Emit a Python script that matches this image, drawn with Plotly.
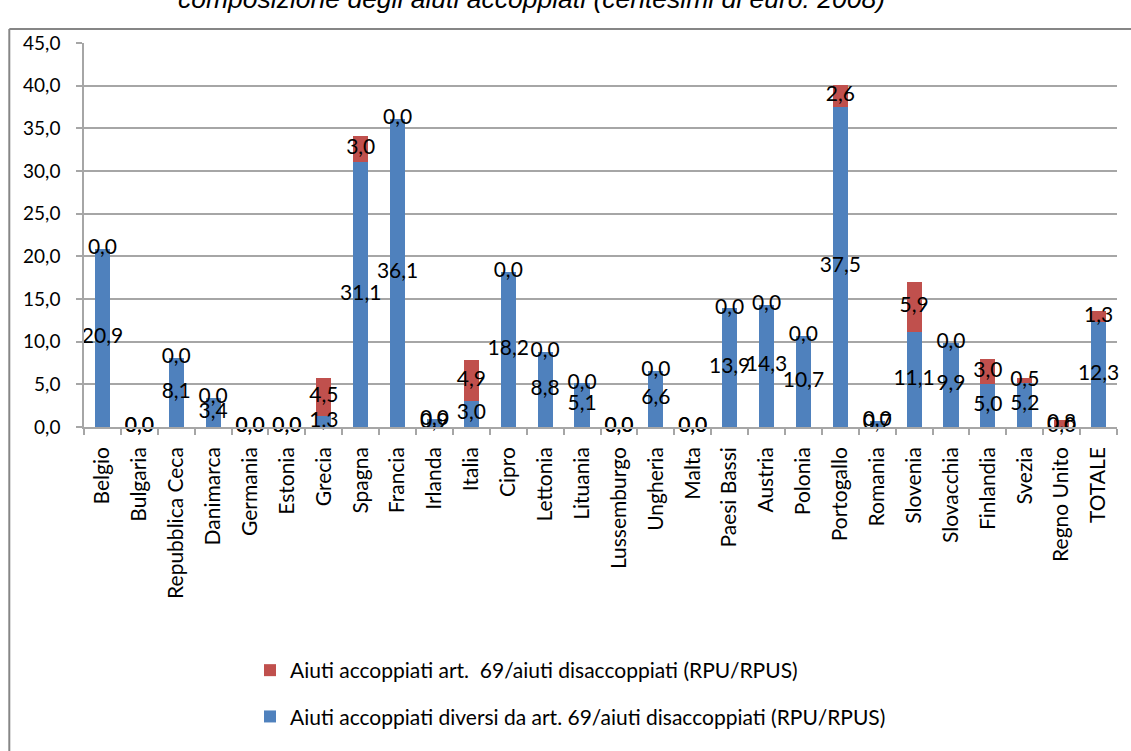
import plotly.graph_objects as go

# Paesi e valori (centesimi di euro, 2008)
paesi = [
    "Belgio", "Bulgaria", "Repubblica Ceca", "Danimarca", "Germania", "Estonia",
    "Grecia", "Spagna", "Francia", "Irlanda", "Italia", "Cipro", "Lettonia",
    "Lituania", "Lussemburgo", "Ungheria", "Malta", "Paesi Bassi", "Austria",
    "Polonia", "Portogallo", "Romania", "Slovenia", "Slovacchia", "Finlandia",
    "Svezia", "Regno Unito", "TOTALE",
]
aiuti_diversi_art69 = [
    20.9, 0.0, 8.1, 3.4, 0.0, 0.0, 1.3, 31.1, 36.1, 0.9, 3.0, 18.2, 8.8,
    5.1, 0.0, 6.6, 0.0, 13.9, 14.3, 10.7, 37.5, 0.7, 11.1, 9.9, 5.0,
    5.2, 0.0, 12.3,
]
aiuti_art69 = [
    0.0, 0.0, 0.0, 0.0, 0.0, 0.0, 4.5, 3.0, 0.0, 0.0, 4.9, 0.0, 0.0,
    0.0, 0.0, 0.0, 0.0, 0.0, 0.0, 0.0, 2.6, 0.0, 5.9, 0.0, 3.0,
    0.5, 0.8, 1.3,
]
y_ticks = [0, 5, 10, 15, 20, 25, 30, 35, 40, 45]

nome_diversi = "Aiuti accoppiati diversi da art. 69/aiuti disaccoppiati (RPU/RPUS)"
nome_art69 = "Aiuti accoppiati art.\u00a0 69/aiuti disaccoppiati (RPU/RPUS)"
titolo = "composizione degli aiuti accoppiati (centesimi di euro. 2008)"


def fmt(v):
    return f"{v:.1f}".replace(".", ",")


BLU = "#4F81BD"
ROSSO = "#C0504D"
GRIGIO = "#A6A6A6"
FONT = "Lato"

fig = go.Figure()
fig.add_bar(
    x=paesi, y=aiuti_diversi_art69, name=nome_diversi,
    marker=dict(color=BLU, line=dict(width=0)), legendgroup="diversi",
    legendrank=2, hoverinfo="skip",
)
fig.add_bar(
    x=paesi, y=aiuti_art69, name=nome_art69,
    marker=dict(color=ROSSO, line=dict(width=0)), legendgroup="art69",
    legendrank=1, hoverinfo="skip",
)

# etichette al centro di ciascun segmento
centro_blu = [b / 2 for b in aiuti_diversi_art69]
centro_rosso = [b + r / 2 for b, r in zip(aiuti_diversi_art69, aiuti_art69)]
for ys, vals in ((centro_blu, aiuti_diversi_art69), (centro_rosso, aiuti_art69)):
    fig.add_scatter(
        x=paesi, y=ys, text=[fmt(v) for v in vals], mode="text",
        textposition="middle center", textfont=dict(family=FONT, size=21, color="#000000"),
        showlegend=False, cliponaxis=False, hoverinfo="skip",
    )

# cornice esterna del grafico
X_CORNICE = (9.3 - 84) / 1033
Y_CORNICE = (427 - 29) / 384
fig.add_shape(type="line", xref="paper", yref="paper",
              x0=X_CORNICE, x1=1.1, y0=Y_CORNICE, y1=Y_CORNICE,
              line=dict(color="#868686", width=2))
fig.add_shape(type="line", xref="paper", yref="paper",
              x0=X_CORNICE, x1=X_CORNICE, y0=Y_CORNICE, y1=-0.95,
              line=dict(color="#868686", width=2))

fig.add_annotation(
    text=titolo, xref="paper", yref="paper", x=(531 - 84) / 1033, y=(427 + 1) / 384,
    xanchor="center", yanchor="middle", showarrow=False,
    font=dict(family="Liberation Sans", size=26.5, style="italic", color="#000000"),
)

fig.update_layout(
    width=1131, height=751,
    margin=dict(l=84, r=14, t=43, b=324, autoexpand=False),
    barmode="stack", bargap=0.59,
    plot_bgcolor="white", paper_bgcolor="white",
    font=dict(family=FONT, size=19, color="#000000"),
    showlegend=True,
    legend=dict(
        x=(250 - 84) / 1033, y=(427 - 650) / 384, xanchor="left", yanchor="top",
        traceorder="grouped", tracegroupgap=16,
        font=dict(family=FONT, size=21, color="#000000"),
        bgcolor="rgba(0,0,0,0)",
    ),
    xaxis=dict(
        type="category", range=[-0.5, len(paesi) - 0.5], tickangle=-90,
        tickfont=dict(family=FONT, size=21),
        showline=True, linecolor=GRIGIO, linewidth=1.5,
        ticks="outside", tickson="boundaries", ticklen=6, tickcolor=GRIGIO, tickwidth=1.5,
        showgrid=False, ticklabelstandoff=10,
    ),
    yaxis=dict(
        range=[0, 45], tickvals=y_ticks, ticktext=[fmt(v) for v in y_ticks],
        showgrid=True, gridcolor=GRIGIO, gridwidth=1.5, zeroline=False,
        showline=True, linecolor=GRIGIO, linewidth=1.5,
        ticks="outside", ticklen=6, tickcolor=GRIGIO, tickwidth=1.5,
        ticklabelstandoff=12, tickfont=dict(family=FONT, size=19),
    ),
)

fig.write_html("out.html")
